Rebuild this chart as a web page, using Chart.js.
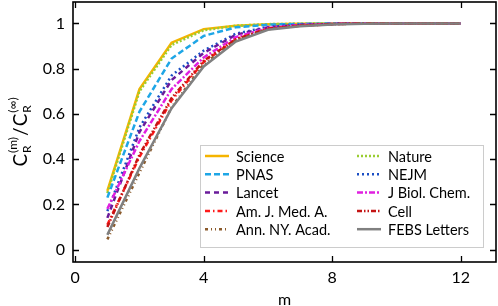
<!DOCTYPE html>
<html>
<head>
<meta charset="utf-8">
<script src="https://cdn.jsdelivr.net/npm/chart.js@4/dist/chart.umd.min.js"></script>
<style>
  html, body { margin: 0; padding: 0; background: #fff; }
  #wrap { width: 498px; height: 306px; }
</style>
</head>
<body>
<div id="wrap"><canvas id="convChart"></canvas></div>
<script>
/* ===============================
   DATA
   =============================== */
const mValues = [1, 2, 3, 4, 5, 6, 7, 8, 9, 10, 11, 12];
const xTicks = [0, 4, 8, 12];
const yTicks = [0, 0.2, 0.4, 0.6, 0.8, 1];

const journals = ["Science", "Nature", "PNAS", "NEJM", "Lancet", "J Biol. Chem.",
  "Am. J. Med. A.", "Cell", "Ann. NY. Acad.", "FEBS Letters"];

const science = [0.26, 0.71, 0.915, 0.975, 0.99, 0.997, 0.999, 1, 1, 1, 1, 1];
const nature  = [0.25, 0.70, 0.905, 0.97, 0.99, 0.997, 0.999, 1, 1, 1, 1, 1];
const pnas    = [0.23, 0.61, 0.845, 0.945, 0.983, 0.995, 0.998, 1, 1, 1, 1, 1];
const nejm    = [0.17, 0.54, 0.77, 0.88, 0.955, 0.985, 0.995, 0.998, 1, 1, 1, 1];
const lancet  = [0.14, 0.52, 0.75, 0.87, 0.95, 0.983, 0.994, 0.998, 1, 1, 1, 1];
const jbc     = [0.18, 0.48, 0.71, 0.85, 0.94, 0.98, 0.993, 0.998, 1, 1, 1, 1];
const amjmed  = [0.11, 0.41, 0.66, 0.83, 0.93, 0.977, 0.99, 0.997, 1, 1, 1, 1];
const cell    = [0.10, 0.42, 0.67, 0.835, 0.93, 0.977, 0.99, 0.997, 1, 1, 1, 1];
const annny   = [0.045, 0.34, 0.63, 0.82, 0.925, 0.975, 0.99, 0.997, 1, 1, 1, 1];
const febs    = [0.065, 0.36, 0.625, 0.81, 0.92, 0.972, 0.988, 0.996, 0.999, 1, 1, 1];

const seriesValues = [science, nature, pnas, nejm, lancet, jbc, amjmed, cell, annny, febs];

const colors = ["#f5b400", "#9acd32", "#1ea6e6", "#1c4fc4", "#6a1b9a", "#e020e0",
  "#ff1a1a", "#c41414", "#8b5a2b", "#808080"];
const dashes = [[], [2, 2], [6, 3], [2, 3], [5, 4], [6, 2, 2, 2],
  [5, 3, 1.5, 3], [5, 2, 1.5, 2, 1.5, 2], [3, 3, 1, 3, 1, 3], []];

const FONT = "Lato";

/* ===============================
   FRAME, INWARD TICKS, LEGEND, Y TITLE
   =============================== */
const framePlugin = {
  id: "frame",
  afterDatasetsDraw(chart) {
    const { ctx, chartArea: a, scales } = chart;
    ctx.save();
    ctx.strokeStyle = "#000";
    ctx.lineWidth = 1.3;
    ctx.beginPath();
    xTicks.forEach(v => {
      const px = Math.round(scales.x.getPixelForValue(v)) + 0.5;
      ctx.moveTo(px, a.bottom); ctx.lineTo(px, a.bottom - 6);
      ctx.moveTo(px, a.top); ctx.lineTo(px, a.top + 6);
    });
    yTicks.forEach(v => {
      const py = Math.round(scales.y.getPixelForValue(v)) + 0.5;
      ctx.moveTo(a.left, py); ctx.lineTo(a.left + 6, py);
      ctx.moveTo(a.right, py); ctx.lineTo(a.right - 6, py);
    });
    ctx.stroke();
    ctx.lineWidth = 1.6;
    ctx.strokeRect(a.left, a.top, a.right - a.left, a.bottom - a.top);

    // legend box
    const bx = 200, by = 145, bw = 283, bh = 102;
    ctx.fillStyle = "#fff";
    ctx.fillRect(bx, by, bw, bh);
    ctx.strokeStyle = "#cccccc";
    ctx.lineWidth = 1;
    ctx.strokeRect(bx + 0.5, by + 0.5, bw, bh);
    ctx.font = `14.5px ${FONT}`;
    ctx.textBaseline = "middle";
    chart.data.datasets.forEach((ds, i) => {
      const col = i % 2, row = Math.floor(i / 2);
      const lx = col === 0 ? 205 : 357;
      const ly = 156 + row * 18.3;
      ctx.strokeStyle = ds.borderColor;
      ctx.lineWidth = 2.5;
      ctx.setLineDash(ds.borderDash);
      ctx.beginPath();
      ctx.moveTo(lx, ly); ctx.lineTo(lx + 24, ly);
      ctx.stroke();
      ctx.setLineDash([]);
      ctx.fillStyle = "#000";
      ctx.textAlign = "left";
      ctx.fillText(ds.label, lx + 31, ly + 1);
    });

    // y axis title: C_R^(m) / C_R^(inf)
    ctx.translate(21, 132);
    ctx.rotate(-Math.PI / 2);
    ctx.fillStyle = "#000";
    ctx.textBaseline = "alphabetic";
    ctx.textAlign = "left";
    const parts = [
      ["C", 19, 0], ["R", 12, 4], ["(m)", 12, -10],
      ["/", 19, 0], ["C", 19, 0], ["R", 12, 4], ["(\u221e)", 12, -10]
    ];
    const widths = parts.map(([t, s]) => {
      ctx.font = `${s}px ${FONT}`;
      return ctx.measureText(t).width;
    });
    // sub/sup share horizontal space
    const advance = [widths[0] + 1, 0, widths[2] + 1, widths[3] + 1, widths[4] + 1, 0, widths[6]];
    const total = advance.reduce((s, w) => s + w, 0);
    let x = -total / 2;
    parts.forEach(([t, s, dy], k) => {
      ctx.font = `${s}px ${FONT}`;
      ctx.fillText(t, x, 6 + dy);
      x += advance[k];
    });
    ctx.restore();
  }
};

/* ===============================
   CHART
   =============================== */
const datasets = journals.map((name, i) => ({
  label: name,
  data: mValues.map((m, k) => ({ x: m, y: seriesValues[i][k] })),
  borderColor: colors[i],
  backgroundColor: colors[i],
  borderDash: dashes[i],
  borderWidth: 2.5,
  pointRadius: 0,
  tension: 0,
  fill: false,
  order: journals.length - 1 - i
}));

new Chart(document.getElementById("convChart"), {
  type: "line",
  data: { datasets },
  options: {
    responsive: true,
    maintainAspectRatio: false,
    animation: false,
    layout: { padding: { top: 2, right: 2, left: 0, bottom: 0 } },
    plugins: { legend: { display: false }, tooltip: { enabled: false } },
    scales: {
      x: {
        type: "linear",
        min: -0.07,
        max: 13.1,
        afterBuildTicks: s => { s.ticks = xTicks.map(v => ({ value: v })); },
        afterFit: s => { s.height = 44; s.paddingLeft = 0; s.paddingRight = 0; },
        grid: { display: false, drawTicks: false },
        border: { display: false },
        ticks: { color: "#000", padding: 6, font: { family: FONT, size: 16 }, maxRotation: 0 },
        title: { display: true, text: "m", color: "#000", font: { family: FONT, size: 16 }, padding: { top: 0, bottom: -3 } }
      },
      y: {
        min: -0.055,
        max: 1.095,
        afterBuildTicks: s => { s.ticks = yTicks.map(v => ({ value: v })); },
        afterFit: s => { s.width = 73; s.paddingTop = 0; s.paddingBottom = 0; },
        grid: { display: false, drawTicks: false },
        border: { display: false },
        ticks: { color: "#000", padding: 8, font: { family: FONT, size: 16 }, callback: v => String(Math.round(v * 10) / 10) }
      }
    }
  },
  plugins: [framePlugin]
});
</script>
</body>
</html>
